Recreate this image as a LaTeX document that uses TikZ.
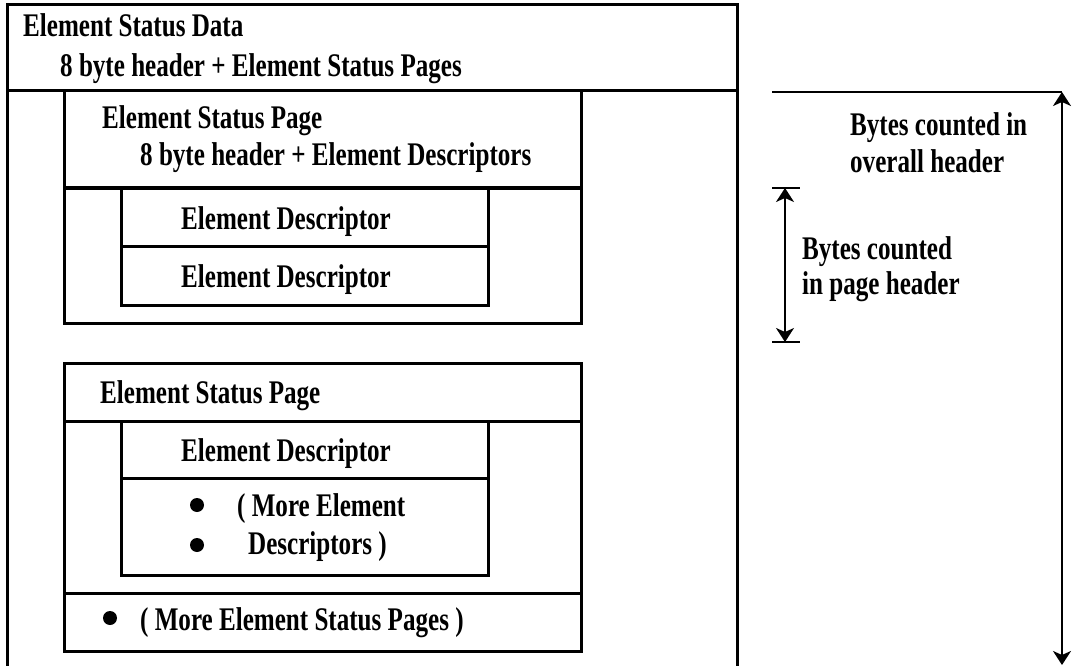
\documentclass[tikz,border=0pt]{standalone}
\usepackage{fontspec}
\newfontfamily\diagfont[FakeStretch=0.76]{Liberation Serif}
\usetikzlibrary{arrows.meta}
\begin{document}
\begin{tikzpicture}[x=1pt,y=-1pt,
  boxline/.style={line width=3pt},
  lbl/.style={anchor=base west,inner sep=0pt,font=\diagfont\bfseries\fontsize{33}{37}\selectfont},
  dimline/.style={line width=2pt},
  dimarrow/.style={line width=2pt,{Stealth[length=14pt,width=18pt,inset=4pt]}-{Stealth[length=14pt,width=18pt,inset=4pt]}},
  bullet/.style={circle,fill=black,inner sep=0pt,minimum size=14pt}]
\useasboundingbox (0,0) rectangle (1074,666);
% outer data block (open at bottom)
\draw[boxline] (7,666) -- (7,5) -- (737,5) -- (737,666);
\draw[boxline] (7,91) -- (737,91);
% page 1
\draw[boxline] (64,91) rectangle (581,323);
\draw[boxline] (64,188) -- (581,188);
\draw[boxline] (121,188) rectangle (488,305);
\draw[boxline] (121,246) -- (488,246);
% page 2
\draw[boxline] (64,363) rectangle (581,651);
\draw[boxline] (64,421) -- (581,421);
\draw[boxline] (121,421) rectangle (488,575);
\draw[boxline] (121,478) -- (488,478);
\draw[boxline] (64,593) -- (581,593);
% texts
\node[lbl] (d1) at (23,37) {Element Status Data};
\node[lbl] (d2) at (60,77) {8 byte header + Element Status Pages};
\node[lbl] (p1) at (102,129) {Element Status Page};
\node[lbl] (p1b) at (140,166) {8 byte header + Element Descriptors};
\node[lbl] (e1) at (181,229) {Element Descriptor};
\node[lbl] (e2) at (181,287) {Element Descriptor};
\node[lbl] (p2) at (100,403) {Element Status Page};
\node[lbl] (e3) at (181,461) {Element Descriptor};
\node[bullet] (b1) at (197,505) {};
\node[bullet] (b2) at (197,545) {};
\node[lbl] (m1) at (237,516) {( More Element};
\node[lbl] (m2) at (248,554) {Descriptors )};
\node[bullet] (b3) at (110,618) {};
\node[lbl] (m3) at (140,630) {( More Element Status Pages )};
% dimension texts
\node[lbl] (t1) at (850,136) {Bytes counted in};
\node[lbl] (t2) at (850,172) {overall header};
\node[lbl] (t3) at (802,259) {Bytes counted};
\node[lbl] (t4) at (802,294) {in page header};
% dimension lines
\coordinate (bigL) at (772,92);
\coordinate (bigT) at (1062,92);
\coordinate (bigB) at (1062,665);
\coordinate (smTL) at (772,188);
\coordinate (smTR) at (800,188);
\coordinate (smBL) at (772,342);
\coordinate (smBR) at (800,342);
\coordinate (smT) at (785,188);
\coordinate (smB) at (785,342);
\draw[dimline] (bigL) -- (bigT);
\draw[dimarrow] (bigT) -- (bigB);
\draw[dimline] (smTL) -- (smTR);
\draw[dimline] (smBL) -- (smBR);
\draw[dimarrow] (smT) -- (smB);
\end{tikzpicture}
\end{document}
